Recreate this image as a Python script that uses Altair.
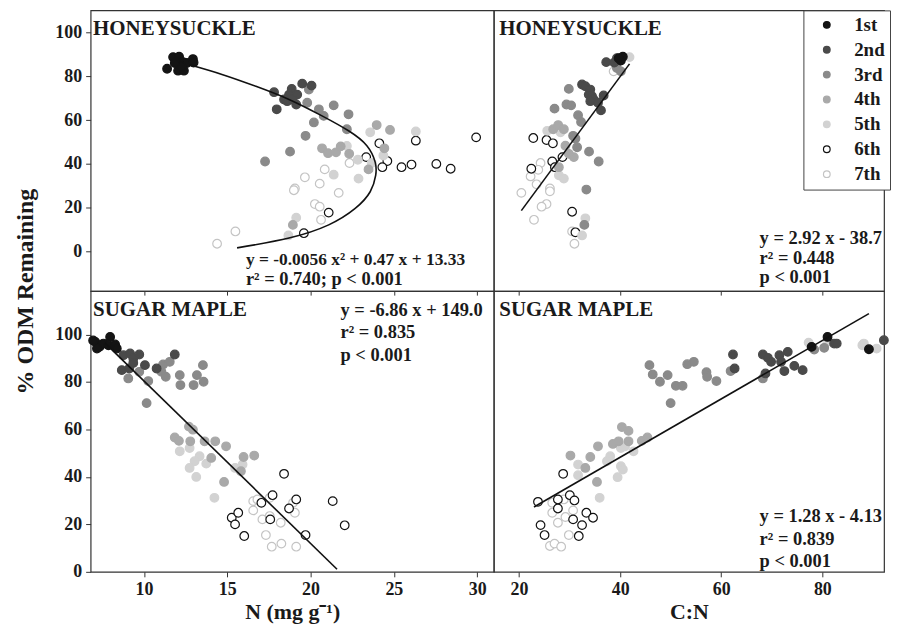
import altair as alt
import pandas as pd

GROUPS = ["1st", "2nd", "3rd", "4th", "5th", "6th", "7th"]
FILL = ["#141414", "#4a4a4a", "#8a8a8a", "#a9a9a9", "#d2d2d2", "#ffffff", "#ffffff"]
STROKE = ["#141414", "#4a4a4a", "#8a8a8a", "#a9a9a9", "#d2d2d2", "#111111", "#c4c4c4"]

# ---------------- Honeysuckle, N (mg g-1) ----------------
HN_X1 = [11.39, 11.75, 12.11, 11.99, 12.35, 12.58, 12.94, 12.98, 12.05, 12.40, 12.25, 11.85]
HN_Y1 = [83.4, 88.7, 88.9, 86.7, 86.4, 86.0, 87.8, 86.2, 82.5, 82.5, 84.4, 86.0]
HN_X2 = [17.81, 19.50, 20.06, 18.87, 18.71, 19.20, 18.41, 18.60, 19.14, 17.97, 18.91]
HN_Y2 = [72.7, 76.6, 75.7, 74.2, 71.6, 71.6, 69.4, 68.6, 67.1, 64.9, 69.4]
HN_X3 = [19.90, 18.77, 17.27, 20.20, 20.79, 22.28, 21.39, 20.50, 19.80, 19.70, 22.18]
HN_Y3 = [73.9, 45.6, 41.1, 58.9, 61.9, 62.6, 66.7, 64.9, 67.9, 52.8, 55.8]
HN_X4 = [23.97, 24.77, 20.69, 21.05, 21.53, 21.81, 22.32, 24.43, 23.48, 18.94]
HN_Y4 = [57.7, 55.5, 47.1, 44.9, 45.3, 48.0, 44.6, 47.1, 37.5, 12.2]
HN_X5 = [23.58, 26.32, 22.18, 24.37, 22.84, 23.67, 22.88, 21.39, 19.14, 18.67]
HN_Y5 = [54.4, 54.8, 48.2, 43.8, 41.9, 40.4, 33.3, 35.1, 15.5, 7.4]
HN_X6 = [24.13, 26.32, 23.34, 24.61, 24.31, 25.46, 26.06, 27.55, 28.41, 21.09, 19.60, 29.94]
HN_Y6 = [49.4, 50.6, 43.1, 41.3, 38.5, 38.5, 39.7, 40.0, 37.8, 17.8, 8.4, 52.1]
HN_X7 = [22.34, 20.85, 19.66, 20.55, 19.06, 19.00, 21.69, 20.26, 20.55, 20.63, 15.49, 14.39]
HN_Y7 = [40.4, 37.5, 33.9, 31.0, 28.8, 28.0, 26.8, 21.7, 20.5, 14.5, 9.2, 3.6]
HN_CURVE_X = [12.74, 14.73, 16.72, 18.71, 20.69, 22.28, 23.38, 23.88, 23.91, 23.58, 22.68, 21.09, 18.71, 15.59]
HN_CURVE_Y = [85.2, 80.7, 75.4, 69.4, 61.9, 55.1, 48.3, 40.8, 34.8, 27.3, 19.7, 12.2, 6.2, 1.7]

# ---------------- Honeysuckle, C:N ----------------
HC_X1 = [40.53, 40.14, 39.69]
HC_Y1 = [88.9, 87.1, 88.2]
HC_X2 = [37.24, 38.82, 39.35, 32.46, 33.11, 34.09, 33.78, 34.43, 34.76, 34.09, 36.73, 35.61, 36.20]
HC_Y2 = [86.4, 86.2, 88.2, 76.2, 75.4, 73.9, 71.6, 70.9, 69.4, 68.6, 71.2, 67.9, 64.4]
HC_X3 = [39.35, 40.14, 29.84, 29.37, 30.30, 27.01, 31.67, 32.26, 30.69, 31.15, 31.48, 33.84, 35.75, 33.31, 32.91]
HC_Y3 = [83.7, 82.2, 74.2, 67.1, 66.7, 65.2, 62.2, 59.1, 52.8, 51.6, 47.6, 45.6, 41.1, 28.3, 12.2]
HC_X4 = [26.75, 27.74, 28.86, 30.83, 29.84, 27.87, 29.17]
HC_Y4 = [55.8, 57.7, 55.8, 43.1, 44.6, 38.5, 48.3]
HC_X5 = [25.57, 27.87, 28.86, 33.11, 32.46, 41.85, 28.19]
HC_Y5 = [55.1, 34.8, 33.3, 15.2, 7.4, 88.7, 54.4]
HC_X6 = [22.81, 25.43, 26.69, 28.58, 26.56, 27.09, 22.42, 30.49, 31.15]
HC_Y6 = [51.8, 50.9, 49.4, 43.1, 41.1, 38.5, 37.8, 18.2, 8.8]
HC_X7 = [24.25, 23.80, 22.28, 23.46, 20.45, 26.10, 26.10, 25.43, 24.45, 22.95, 30.49, 30.95, 38.70]
HC_Y7 = [40.4, 37.3, 34.3, 30.7, 26.8, 28.8, 27.5, 21.7, 20.5, 14.5, 9.2, 3.6, 82.2]
HC_LINE_X = [20.45, 41.85]
HC_LINE_Y = [18.7, 85.6]

# ---------------- Sugar maple, N (mg g-1) ----------------
SN_X1 = [7.08, 7.33, 7.57, 7.97, 7.87, 8.27, 8.37, 7.18, 6.95]
SN_Y1 = [96.9, 94.8, 96.2, 99.0, 95.5, 95.8, 94.1, 94.1, 97.5]
SN_X2 = [8.77, 9.17, 9.72, 9.36, 8.67, 9.12, 10.06, 10.76, 11.85, 9.36]
SN_Y2 = [91.3, 92.0, 91.6, 89.9, 85.0, 85.7, 87.1, 85.7, 91.6, 88.0]
SN_X3 = [9.06, 9.72, 10.26, 10.16, 11.15, 11.55, 11.05, 11.31, 12.15, 13.18, 13.54, 12.19, 12.98, 13.58]
SN_Y3 = [81.5, 84.3, 80.4, 71.1, 87.4, 88.5, 84.3, 82.2, 82.9, 82.9, 87.1, 78.7, 78.7, 80.1]
SN_X4 = [12.70, 11.85, 12.10, 12.78, 13.64, 14.28, 14.04, 14.93, 14.81, 15.98, 16.62, 12.94, 15.82]
SN_Y4 = [61.2, 56.6, 55.2, 55.0, 55.0, 55.0, 48.0, 52.9, 37.9, 48.4, 49.0, 59.9, 42.4]
SN_X5 = [12.74, 12.15, 13.34, 13.04, 12.74, 13.74, 13.14, 14.23, 15.47, 15.92]
SN_Y5 = [52.2, 50.8, 48.7, 46.6, 43.8, 45.6, 40.0, 31.2, 43.8, 45.2]
SN_X6 = [18.41, 15.27, 15.66, 15.47, 16.02, 17.05, 17.72, 17.58, 18.71, 19.14, 19.70, 21.33, 22.05]
SN_Y6 = [41.3, 22.8, 24.9, 20.0, 15.1, 29.1, 32.3, 22.1, 26.7, 30.5, 15.5, 29.8, 19.6]
SN_X7 = [16.56, 16.81, 16.56, 17.11, 17.55, 18.21, 17.32, 17.67, 18.25, 19.14, 18.95, 19.06, 17.55]
SN_Y7 = [29.8, 30.5, 25.9, 22.1, 23.5, 20.7, 15.5, 10.6, 11.9, 10.6, 29.1, 24.9, 31.2]
SN_LINE_X = [7.67, 21.59]
SN_LINE_Y = [96.4, 1.1]

# ---------------- Sugar maple, C:N ----------------
SC_X1 = [81.02, 77.87, 89.21]
SC_Y1 = [99.0, 94.8, 93.8]
SC_X2 = [62.32, 62.64, 68.23, 69.21, 69.86, 71.50, 73.15, 71.83, 68.74, 72.48, 74.45, 76.10, 92.17, 82.32, 82.84]
SC_Y2 = [91.6, 85.7, 91.6, 90.2, 88.5, 91.3, 92.7, 88.5, 83.6, 84.6, 86.8, 85.0, 97.6, 96.2, 96.2]
SC_X3 = [45.79, 46.44, 47.87, 49.39, 51.02, 52.34, 49.98, 53.27, 54.57, 57.07, 57.20, 59.04, 61.85, 68.23, 78.39, 80.36]
SC_Y3 = [87.1, 83.2, 80.1, 82.9, 78.4, 78.4, 71.1, 87.5, 88.5, 84.1, 82.2, 80.4, 84.6, 81.5, 93.7, 94.4]
SC_X4 = [30.16, 34.09, 35.61, 38.56, 39.69, 40.34, 41.65, 41.65, 44.27, 45.39, 35.41, 33.11]
SC_Y4 = [49.0, 48.4, 52.9, 53.9, 55.0, 61.0, 59.4, 55.0, 55.2, 56.6, 37.9, 43.8]
SC_X5 = [31.67, 31.67, 35.94, 38.03, 37.38, 40.14, 40.98, 40.14, 40.53, 39.49, 42.64, 77.28, 81.02, 87.91, 88.21, 90.73]
SC_Y5 = [45.2, 40.7, 31.2, 48.7, 46.6, 52.2, 52.9, 44.5, 43.1, 39.9, 50.8, 96.6, 96.9, 95.5, 96.2, 94.1]
SC_X6 = [23.74, 28.72, 27.68, 30.04, 30.95, 27.68, 24.25, 25.04, 30.69, 32.46, 33.31, 34.63, 31.81]
SC_Y6 = [29.5, 41.3, 30.5, 32.3, 30.1, 26.7, 19.7, 15.5, 22.1, 19.7, 24.9, 22.8, 15.1]
SC_X7 = [26.56, 28.86, 26.56, 27.68, 29.17, 30.69, 29.84, 26.10, 27.01, 28.33]
SC_Y7 = [29.1, 30.5, 24.9, 20.7, 23.1, 25.9, 15.5, 10.9, 11.9, 10.6]
SC_LINE_X = [22.95, 89.21]
SC_LINE_Y = [27.3, 108.8]

FONT = "Liberation Serif"

LEG = alt.Legend(
    title=None, orient="none", legendX=716, legendY=0, padding=5,
    symbolOffset=9, labelOffset=18, rowPadding=5, symbolType="circle",
    symbolSize=45, symbolStrokeWidth=1.2, labelFont=FONT, labelFontWeight="bold",
    labelFontSize=19, labelColor="#1a1a1a", strokeColor="#444", fillColor="white",
)


def points_df(groups):
    rows = []
    for gi in reversed(range(len(groups))):
        xs, ys = groups[gi]
        for x, y in zip(xs, ys):
            rows.append({"x": x, "y": y, "g": GROUPS[gi]})
    return pd.DataFrame(rows)


def line_df(xs, ys):
    return pd.DataFrame({"x": xs, "y": ys, "i": list(range(len(xs)))})


ONE = pd.DataFrame({"k": [0]})


def text_layer(t, px, py, size):
    return alt.Chart(ONE).mark_text(
        align="left", baseline="alphabetic", font=FONT, fontWeight="bold",
        fontSize=size, color="#1a1a1a",
    ).encode(x=alt.value(px), y=alt.value(py), text=alt.value(t))


def panel(groups, xdom, ydom, w, h, xaxis, yaxis, line, curve, texts):
    xs = alt.Scale(domain=xdom, nice=False, zero=False)
    ys = alt.Scale(domain=ydom, nice=False, zero=False)
    pts = alt.Chart(points_df(groups)).mark_point(
        shape="circle", filled=True, size=75, strokeWidth=1.2, opacity=1
    ).encode(
        x=alt.X("x:Q", scale=xs, axis=xaxis),
        y=alt.Y("y:Q", scale=ys, axis=yaxis),
        fill=alt.Fill("g:N", scale=alt.Scale(domain=GROUPS, range=FILL), legend=LEG),
        stroke=alt.Stroke("g:N", scale=alt.Scale(domain=GROUPS, range=STROKE), legend=LEG),
    )
    ln = alt.Chart(line_df(*line)).mark_line(
        color="#111", strokeWidth=1.6, interpolate="natural" if curve else "linear"
    ).encode(
        x=alt.X("x:Q", scale=xs, axis=xaxis),
        y=alt.Y("y:Q", scale=ys, axis=yaxis),
        order="i:Q",
    )
    layers = [pts, ln] + [text_layer(*t) for t in texts]
    return alt.layer(*layers).properties(width=w, height=h)


YVALS = [0, 20, 40, 60, 80, 100]
TOP_DOM = [-18, 110]
BOT_DOM = [0, 118.3]
N_DOM = [6.8, 31]
CN_DOM = [15, 92.2]
WL, WR, HT, HB = 405, 392, 282, 282

y_tl = alt.Axis(values=YVALS, title="% ODM Remaining", titleX=-58, titleY=282,
                titleAngle=-90, titleAlign="center", titleBaseline="alphabetic",
                titleFontSize=24)
y_bl = alt.Axis(values=YVALS, title=None)
x_top_l = alt.Axis(values=[10, 15, 20, 25, 30], labels=False, title=None, tickSize=4)
x_top_r = alt.Axis(values=[20, 40, 60, 80], labels=False, title=None, tickSize=4)
x_bl = alt.Axis(values=[10, 15, 20, 25, 30], title="N (mg g⁻¹)")
x_br = alt.Axis(values=[20, 40, 60, 80], title="C:N")

EQ = 18.5
TL = panel(
    [(HN_X1, HN_Y1), (HN_X2, HN_Y2), (HN_X3, HN_Y3), (HN_X4, HN_Y4),
     (HN_X5, HN_Y5), (HN_X6, HN_Y6), (HN_X7, HN_Y7)],
    N_DOM, TOP_DOM, WL, HT, x_top_l, y_tl, (HN_CURVE_X, HN_CURVE_Y), True,
    [("HONEYSUCKLE", 2.5, 24.5, 21),
     ("y = -0.0056 x² + 0.47 x + 13.33", 156, 256, 17.5),
     ("r² = 0.740; p < 0.001", 156, 276, EQ)],
)
TR = panel(
    [(HC_X1, HC_Y1), (HC_X2, HC_Y2), (HC_X3, HC_Y3), (HC_X4, HC_Y4),
     (HC_X5, HC_Y5), (HC_X6, HC_Y6), (HC_X7, HC_Y7)],
    CN_DOM, TOP_DOM, WR, HT, x_top_r, None, (HC_LINE_X, HC_LINE_Y), False,
    [("HONEYSUCKLE", 5.5, 24.5, 21),
     ("y = 2.92 x - 38.7", 267, 235, EQ),
     ("r² = 0.448", 267, 254.5, EQ),
     ("p < 0.001", 267, 274, EQ)],
)
BL = panel(
    [(SN_X1, SN_Y1), (SN_X2, SN_Y2), (SN_X3, SN_Y3), (SN_X4, SN_Y4),
     (SN_X5, SN_Y5), (SN_X6, SN_Y6), (SN_X7, SN_Y7)],
    N_DOM, BOT_DOM, WL, HB, x_bl, y_bl, (SN_LINE_X, SN_LINE_Y), False,
    [("SUGAR MAPLE", 2.5, 24.5, 21),
     ("y = -6.86 x + 149.0", 251, 24.5, EQ),
     ("r² = 0.835", 251, 47.5, EQ),
     ("p < 0.001", 251, 70, EQ)],
)
BR = panel(
    [(SC_X1, SC_Y1), (SC_X2, SC_Y2), (SC_X3, SC_Y3), (SC_X4, SC_Y4),
     (SC_X5, SC_Y5), (SC_X6, SC_Y6), (SC_X7, SC_Y7)],
    CN_DOM, BOT_DOM, WR, HB, x_br, None, (SC_LINE_X, SC_LINE_Y), False,
    [("SUGAR MAPLE", 5.5, 24.5, 21),
     ("y = 1.28 x - 4.13", 267, 232, EQ),
     ("r² = 0.839", 267, 255, EQ),
     ("p < 0.001", 267, 277, EQ)],
)

chart = alt.concat(TL, TR, BL, BR, columns=2, spacing=0, bounds="flush").properties(
    padding={"left": 5, "top": 0, "right": 0, "bottom": 0}
).configure_view(stroke="#333", strokeWidth=1.2).configure_axis(
    grid=False, domain=False, labelFont=FONT, labelFontWeight="bold", labelFontSize=18,
    labelColor="#1a1a1a", tickColor="#333", tickSize=5, labelPadding=4,
    titleFont=FONT, titleFontWeight="bold", titleFontSize=22, titleColor="#1a1a1a",
    titlePadding=3,
)

chart.save("out.html", embed_options={"renderer": "svg", "actions": False})
